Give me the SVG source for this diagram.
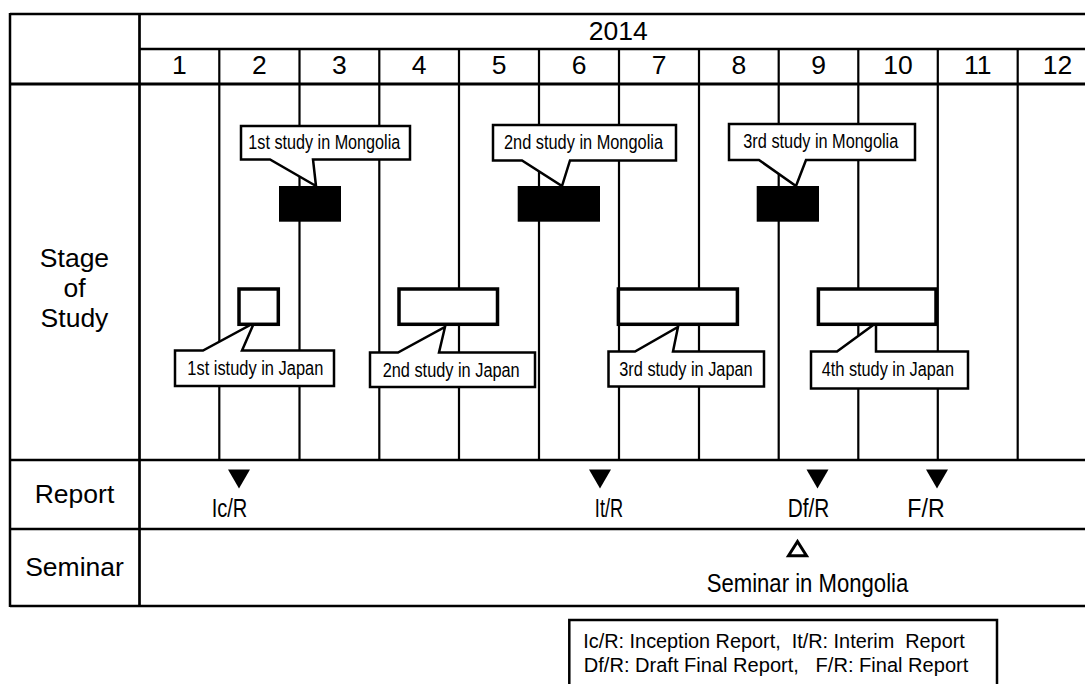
<svg xmlns="http://www.w3.org/2000/svg" width="1085" height="684" viewBox="0 0 1085 684">
<style>
.ln{stroke:#000;stroke-width:2.5;fill:none}
.vl{stroke:#000;stroke-width:2.2;fill:none}
.t{font-family:"Liberation Sans",Arial,sans-serif;font-size:26.5px;fill:#000;text-anchor:middle}
.n{font-family:"Liberation Sans",Arial,sans-serif;fill:#000}
.call{fill:#fff;stroke:#000;stroke-width:2.5;stroke-linejoin:miter}
.blk{fill:#000}
.wb{fill:#fff;stroke:#000;stroke-width:3.5}
.tri{fill:#000}
.otri{fill:#fff;stroke:#000;stroke-width:3}
</style>
<rect width="1085" height="684" fill="#fff"/>
<g id="grid">
<line class="vl" x1="219.3" y1="49" x2="219.3" y2="460"/>
<line class="vl" x1="299.5" y1="49" x2="299.5" y2="460"/>
<line class="vl" x1="379.3" y1="49" x2="379.3" y2="460"/>
<line class="vl" x1="459" y1="49" x2="459" y2="460"/>
<line class="vl" x1="539" y1="49" x2="539" y2="460"/>
<line class="vl" x1="619" y1="49" x2="619" y2="460"/>
<line class="vl" x1="699" y1="49" x2="699" y2="460"/>
<line class="vl" x1="778.7" y1="49" x2="778.7" y2="460"/>
<line class="vl" x1="858.3" y1="49" x2="858.3" y2="460"/>
<line class="vl" x1="937.8" y1="49" x2="937.8" y2="460"/>
<line class="vl" x1="1017.7" y1="49" x2="1017.7" y2="460"/>
<line class="ln" x1="10" y1="14" x2="1085" y2="14"/>
<line class="ln" x1="139.5" y1="49" x2="1085" y2="49"/>
<line class="ln" x1="10" y1="84" x2="1085" y2="84" style="stroke-width:2.8"/>
<line class="ln" x1="10" y1="460" x2="1085" y2="460"/>
<line class="ln" x1="10" y1="529" x2="1085" y2="529"/>
<line class="ln" x1="10" y1="606" x2="1085" y2="606"/>
<line class="ln" x1="10" y1="13" x2="10" y2="607"/>
<line class="ln" x1="139.5" y1="13" x2="139.5" y2="607" style="stroke-width:2.7"/>
</g>
<g id="header">
<text class="t" x="618.3" y="40">2014</text>
<text class="t" x="179.4" y="74">1</text>
<text class="t" x="259.4" y="74">2</text>
<text class="t" x="339.4" y="74">3</text>
<text class="t" x="419.2" y="74">4</text>
<text class="t" x="499" y="74">5</text>
<text class="t" x="579" y="74">6</text>
<text class="t" x="659" y="74">7</text>
<text class="t" x="738.9" y="74">8</text>
<text class="t" x="818.5" y="74">9</text>
<text class="t" x="898" y="74">10</text>
<text class="t" x="977.8" y="74">11</text>
<text class="t" x="1057.5" y="74">12</text>
</g>
<g id="row-labels">
<text class="t" x="74.5" y="267">Stage</text>
<text class="t" x="74.5" y="297">of</text>
<text class="t" x="74.5" y="327">Study</text>
<text class="t" x="74.5" y="503">Report</text>
<text class="t" x="74.5" y="576">Seminar</text>
</g>
<g id="callout-mongolia-1">
<path class="call" d="M241,126 H410 V159.5 H313 L316,186 L270,159.5 H241 Z"/>
<text class="n" x="248.3" y="149.3" font-size="20" textLength="152" lengthAdjust="spacingAndGlyphs">1st study in Mongolia</text>
<rect class="blk" x="279" y="186" width="62" height="35.7"/>
</g>
<g id="callout-mongolia-2">
<path class="call" d="M493,125 H676 V160.5 H570 L562,186 L522,160.5 H493 Z"/>
<text class="n" x="504" y="149.3" font-size="20" textLength="159" lengthAdjust="spacingAndGlyphs">2nd study in Mongolia</text>
<rect class="blk" x="517.7" y="186" width="82.3" height="35.7"/>
</g>
<g id="callout-mongolia-3">
<path class="call" d="M729,124 H915 V160 H806 L796,186 L759,160 H729 Z"/>
<text class="n" x="743.3" y="147.5" font-size="20" textLength="155" lengthAdjust="spacingAndGlyphs">3rd study in Mongolia</text>
<rect class="blk" x="756.7" y="186" width="62.3" height="35.7"/>
</g>
<g id="callout-japan-1">
<path class="call" d="M175,350.5 H203 L254,323 L242,350.5 H334 V386 H175 Z"/>
<text class="n" x="187.3" y="375" font-size="20" textLength="136" lengthAdjust="spacingAndGlyphs">1st istudy in Japan</text>
<rect class="wb" x="239" y="289" width="39.3" height="35.3"/>
</g>
<g id="callout-japan-2">
<path class="call" d="M370,352.5 H398 L445,327 L439,352.5 H535 V387 H370 Z"/>
<text class="n" x="382.7" y="376.7" font-size="20" textLength="137" lengthAdjust="spacingAndGlyphs">2nd study in Japan</text>
<rect class="wb" x="399" y="289" width="98.5" height="35.3"/>
</g>
<g id="callout-japan-3">
<path class="call" d="M608.5,351.5 H635 L678,327 L673,351.5 H764 V386.5 H608.5 Z"/>
<text class="n" x="619.3" y="376" font-size="20" textLength="133.3" lengthAdjust="spacingAndGlyphs">3rd study in Japan</text>
<rect class="wb" x="618.4" y="289" width="119" height="35.3"/>
</g>
<g id="callout-japan-4">
<path class="call" d="M811,351.5 H837 L876,323 L876,351.5 H968 V388.5 H811 Z"/>
<text class="n" x="821.7" y="376" font-size="20" textLength="132.3" lengthAdjust="spacingAndGlyphs">4th study in Japan</text>
<rect class="wb" x="818.4" y="289" width="117.6" height="35.3"/>
</g>
<g id="reports">
<polygon class="tri" points="228,469.5 250,469.5 239,488.5"/>
<text class="n" x="229.5" y="517" font-size="25" text-anchor="middle" textLength="35.7" lengthAdjust="spacingAndGlyphs">Ic/R</text>
<polygon class="tri" points="589,469.5 611,469.5 600,488.5"/>
<text class="n" x="609" y="517" font-size="25" text-anchor="middle" textLength="28.3" lengthAdjust="spacingAndGlyphs">It/R</text>
<polygon class="tri" points="806.5,469.5 828.5,469.5 817.5,488.5"/>
<text class="n" x="808.5" y="517" font-size="25" text-anchor="middle" textLength="41.6" lengthAdjust="spacingAndGlyphs">Df/R</text>
<polygon class="tri" points="926,469.5 948,469.5 937,488.5"/>
<text class="n" x="926" y="517" font-size="25" text-anchor="middle" textLength="37.3" lengthAdjust="spacingAndGlyphs">F/R</text>
</g>
<g id="seminar">
<polygon class="otri" points="797.5,541.5 806.5,555.8 788.5,555.8"/>
<text class="n" x="706.7" y="591.7" font-size="25.5" textLength="201.6" lengthAdjust="spacingAndGlyphs">Seminar in Mongolia</text>
</g>
<g id="legend">
<rect class="ln" x="569.3" y="620" width="427.7" height="90"/>
<text class="n" x="583.3" y="648.3" font-size="19.5" textLength="381.5" lengthAdjust="spacingAndGlyphs" style="white-space:pre">Ic/R: Inception Report,  It/R: Interim  Report</text>
<text class="n" x="583.8" y="671.7" font-size="19.5" textLength="384.5" lengthAdjust="spacingAndGlyphs" style="white-space:pre">Df/R: Draft Final Report,   F/R: Final Report</text>
</g>
</svg>
